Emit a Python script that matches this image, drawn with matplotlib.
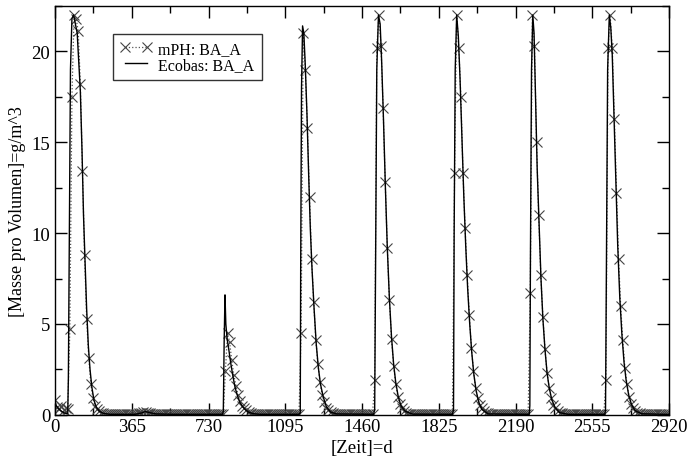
import numpy as np
import matplotlib
matplotlib.use("Agg")
import matplotlib.pyplot as plt
from matplotlib.ticker import MultipleLocator

plt.rcParams['font.family'] = ['Liberation Serif', 'DejaVu Serif']

# mPH: BA_A, sampled every 10 days (day 0 .. 2920)
mph_days = np.arange(0, 2921, 10)
mph_vals = [
    0.8, 0.45, 0.3, 0.5, 0.25, 0.35, 0.3, 4.7, 17.5, 22.0,
    21.8, 21.1, 18.2, 13.4, 8.8, 5.3, 3.1, 1.7, 0.9, 0.5,
    0.3, 0.2, 0.12, 0.08, 0.05, 0.04, 0.03, 0.03, 0.02, 0.02,
    0.02, 0.02, 0.03, 0.02, 0.02, 0.03, 0.04, 0.05, 0.04, 0.05,
    0.08, 0.12, 0.15, 0.14, 0.1, 0.08, 0.06, 0.05, 0.05, 0.04,
    0.04, 0.03, 0.03, 0.03, 0.02, 0.02, 0.02, 0.02, 0.03, 0.02,
    0.02, 0.02, 0.03, 0.02, 0.02, 0.02, 0.03, 0.02, 0.02, 0.02,
    0.02, 0.03, 0.02, 0.03, 0.02, 0.03, 0.02, 0.03, 0.03, 0.05,
    0.05, 2.4, 4.5, 4.0, 3.0, 2.2, 1.6, 1.1, 0.75, 0.5,
    0.35, 0.25, 0.16, 0.1, 0.07, 0.05, 0.04, 0.03, 0.03, 0.02,
    0.02, 0.02, 0.02, 0.02, 0.02, 0.02, 0.02, 0.02, 0.02, 0.02,
    0.02, 0.02, 0.02, 0.02, 0.02, 0.02, 0.03, 4.5, 21.0, 19.0,
    15.8, 12.0, 8.6, 6.2, 4.1, 2.8, 1.8, 1.1, 0.7, 0.4,
    0.25, 0.15, 0.1, 0.06, 0.04, 0.03, 0.03, 0.02, 0.02, 0.02,
    0.02, 0.02, 0.02, 0.02, 0.02, 0.02, 0.02, 0.02, 0.02, 0.02,
    0.02, 0.02, 1.9, 20.2, 22.0, 20.3, 16.9, 12.8, 9.2, 6.3,
    4.2, 2.7, 1.7, 1.0, 0.6, 0.35, 0.2, 0.12, 0.07, 0.05,
    0.04, 0.03, 0.02, 0.02, 0.02, 0.02, 0.02, 0.02, 0.02, 0.02,
    0.02, 0.02, 0.02, 0.02, 0.02, 0.02, 0.02, 0.02, 0.02, 0.05,
    13.3, 22.0, 20.2, 17.5, 13.3, 10.3, 7.7, 5.5, 3.7, 2.4,
    1.5, 0.9, 0.55, 0.35, 0.2, 0.12, 0.08, 0.05, 0.04, 0.03,
    0.02, 0.02, 0.02, 0.02, 0.02, 0.02, 0.02, 0.02, 0.02, 0.02,
    0.02, 0.02, 0.02, 0.02, 0.02, 0.02, 6.7, 22.0, 20.3, 15.0,
    11.0, 7.7, 5.4, 3.6, 2.3, 1.5, 0.9, 0.55, 0.35, 0.2,
    0.12, 0.08, 0.05, 0.04, 0.03, 0.02, 0.02, 0.02, 0.02, 0.02,
    0.02, 0.02, 0.02, 0.02, 0.02, 0.02, 0.02, 0.02, 0.02, 0.02,
    0.02, 0.05, 1.9, 20.2, 22.0, 20.2, 16.3, 12.2, 8.6, 6.0,
    4.1, 2.6, 1.7, 1.0, 0.6, 0.35, 0.2, 0.12, 0.08, 0.05,
    0.04, 0.03, 0.02, 0.02, 0.02, 0.02, 0.02, 0.02, 0.02, 0.02,
    0.02, 0.02, 0.02,
]

# Ecobas: BA_A, line key points
eco_days = [
    0, 15, 30, 45, 60, 63, 68, 73, 80, 88, 95, 105, 112, 120, 128, 135, 142, 150,
    158, 166, 175, 185, 195, 210, 230, 260, 380, 410, 430, 450, 480, 560, 796,
    800, 804, 808, 812, 818, 826, 836, 846, 856, 866, 878, 892, 905, 920, 940, 970, 1160,
    1166, 1168, 1172, 1177, 1183, 1190, 1198, 1206, 1214, 1222, 1232, 1242, 1252, 1262,
    1275, 1290, 1310, 1340, 1515,
    1520, 1524, 1530, 1538, 1546, 1553, 1562, 1571, 1580, 1590, 1600, 1610, 1620, 1632,
    1645, 1665, 1700, 1890,
    1895, 1898, 1903, 1910, 1918, 1926, 1935, 1944, 1953, 1962, 1972, 1982, 1992, 2003,
    2015, 2030, 2060, 2255,
    2258, 2261, 2266, 2272, 2278, 2285, 2293, 2302, 2311, 2320, 2330, 2340, 2350, 2362,
    2378, 2400, 2440, 2615,
    2618, 2622, 2628, 2636, 2643, 2650, 2658, 2667, 2676, 2686, 2696, 2706, 2716, 2728,
    2742, 2760, 2790, 2920,
]
eco_vals = [
    0.6, 0.35, 0.2, 0.1, 0.05, 2.0, 10.5, 19.0, 21.8, 22.0, 21.6, 21.0, 19.5, 17.8, 14.5, 11.0, 8.5, 5.8,
    3.8, 2.5, 1.5, 0.8, 0.45, 0.2, 0.08, 0.03, 0.03, 0.1, 0.18, 0.12, 0.05, 0.03, 0.03,
    0.2, 4.0, 6.6, 5.0, 4.2, 3.6, 2.8, 2.1, 1.5, 1.1, 0.7, 0.45, 0.28, 0.15, 0.07, 0.03, 0.03,
    0.1, 8.0, 18.0, 21.4, 21.0, 19.2, 16.5, 13.2, 10.2, 8.0, 5.8, 3.9, 2.6, 1.7,
    1.0, 0.45, 0.15, 0.05, 0.03,
    0.3, 8.0, 19.0, 22.0, 21.5, 19.5, 16.2, 12.5, 9.2, 6.4, 4.3, 2.8, 1.8, 1.0,
    0.5, 0.2, 0.04, 0.03,
    0.3, 10.0, 19.0, 22.0, 20.8, 18.5, 15.2, 12.0, 9.3, 7.0, 5.0, 3.4, 2.2, 1.3,
    0.7, 0.3, 0.05, 0.03,
    0.5, 9.0, 19.0, 22.0, 21.0, 17.5, 13.5, 10.5, 7.5, 5.3, 3.6, 2.3, 1.5, 0.85,
    0.4, 0.12, 0.03, 0.03,
    0.3, 8.0, 19.0, 22.0, 21.3, 19.8, 16.6, 12.8, 9.3, 6.4, 4.4, 2.9, 1.9, 1.1,
    0.55, 0.22, 0.06, 0.02,
]

x_ticks = [0, 365, 730, 1095, 1460, 1825, 2190, 2555, 2920]

fig = plt.figure(figsize=(6.89, 4.60), dpi=100)
ax = fig.add_axes([0.080, 0.096, 0.891, 0.889])

ax.plot(mph_days, mph_vals, color='#555555', linestyle=':', linewidth=0.9,
        marker='x', markersize=7, markeredgewidth=0.8, markeredgecolor='#444444',
        label='mPH: BA_A')
ax.plot(eco_days, eco_vals, color='black', linewidth=1.0, label='Ecobas: BA_A')

ax.set_xlim(0, 2920)
ax.set_ylim(0, 22.5)
ax.set_xticks(x_ticks)
ax.xaxis.set_minor_locator(MultipleLocator(182.5))
ax.yaxis.set_major_locator(MultipleLocator(5))
ax.yaxis.set_minor_locator(MultipleLocator(2.5))
ax.tick_params(which='both', direction='in', top=True, right=True, labelsize=13.5)
ax.tick_params(which='major', length=8.5, width=1.0)
ax.tick_params(axis='x', which='major', pad=2)
ax.tick_params(axis='y', which='major', pad=3.5)
ax.tick_params(which='minor', length=5, width=1.0)
for s in ax.spines.values():
    s.set_linewidth(1.0)

ax.set_xlabel('[Zeit]=d', fontsize=13.5, labelpad=3)
ax.set_ylabel('[Masse pro Volumen]=g/m^3', fontsize=13, labelpad=4)

leg = ax.legend(loc='upper left', bbox_to_anchor=(0.094, 0.932), numpoints=2,
                fontsize=11.5, frameon=True, fancybox=False, edgecolor='black',
                handlelength=2.0, borderpad=0.45, labelspacing=0.0,
                handletextpad=0.4, borderaxespad=0)
leg.get_frame().set_linewidth(1.0)

fig.savefig('out.png', dpi=100)
